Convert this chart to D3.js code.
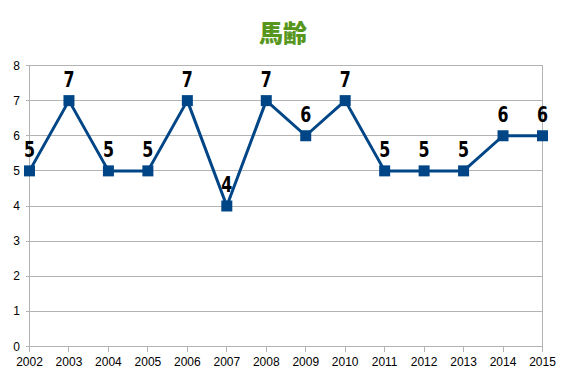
<!DOCTYPE html>
<html>
<head>
<meta charset="utf-8">
<script src="https://cdn.jsdelivr.net/npm/d3@7/dist/d3.min.js"></script>
<style>
    body { margin: 0; background: #fff; }
    .grid line { stroke: #b3b3b3; stroke-width: 1px; shape-rendering: crispEdges; }
    .val { font-family: "DejaVu Sans", sans-serif; font-weight: bold; font-size: 22px; fill: #000; }
</style>
</head>
<body>
<script>

    var years = [2002, 2003, 2004, 2005, 2006, 2007, 2008, 2009, 2010, 2011, 2012, 2013, 2014, 2015];
    var ages = [5, 7, 5, 5, 7, 4, 7, 6, 7, 5, 5, 5, 6, 6];
    var yTicks = [0, 1, 2, 3, 4, 5, 6, 7, 8];
    var title = "馬齢";

    var width = 567, height = 378;
    var m = { left: 29.5, right: 542.5, top: 65.5, bottom: 346.5 };

    var svg = d3.select("body").append("svg")
        .attr("width", width)
        .attr("height", height);

    var x = d3.scalePoint().domain(years).range([m.left, m.right]);
    var y = d3.scaleLinear().domain([0, 8]).range([m.bottom, m.top]);

    // horizontal gridlines
    svg.append("g").attr("class", "grid")
        .selectAll("line").data(yTicks).enter().append("line")
        .attr("x1", m.left - 4).attr("x2", m.right)
        .attr("y1", function (d) { return y(d); })
        .attr("y2", function (d) { return y(d); });

    // left axis line and right border
    svg.append("g").attr("class", "grid")
        .selectAll("line").data([m.left, m.right]).enter().append("line")
        .attr("x1", function (d) { return d; }).attr("x2", function (d) { return d; })
        .attr("y1", m.top).attr("y2", m.bottom);

    // bottom tick marks
    svg.append("g").attr("class", "grid")
        .selectAll("line").data(years).enter().append("line")
        .attr("x1", function (d) { return x(d); }).attr("x2", function (d) { return x(d); })
        .attr("y1", m.bottom).attr("y2", m.bottom + 5);

    // y labels
    svg.append("g")
        .selectAll("text").data(yTicks).enter().append("text")
        .attr("x", 20).attr("y", function (d) { return y(d) + 4; })
        .attr("text-anchor", "end")
        .style("font-family", "Liberation Sans, Arial, sans-serif").style("font-size", "12px")
        .text(function (d) { return d; });

    // x labels
    svg.append("g")
        .selectAll("text").data(years).enter().append("text")
        .attr("x", function (d) { return x(d); }).attr("y", m.bottom + 19)
        .attr("text-anchor", "middle")
        .style("font-family", "Liberation Sans, Arial, sans-serif").style("font-size", "12px")
        .text(function (d) { return d; });

    var pts = years.map(function (d, i) { return [d, ages[i]]; });

    svg.append("path")
        .datum(pts)
        .attr("fill", "none")
        .attr("stroke", "#004586")
        .attr("stroke-width", 3)
        .attr("stroke-linejoin", "round")
        .attr("d", d3.line().x(function (d) { return x(d[0]); }).y(function (d) { return y(d[1]); }));

    svg.selectAll("rect.mk").data(pts).enter().append("rect")
        .attr("class", "mk")
        .attr("x", function (d) { return x(d[0]) - 5.5; })
        .attr("y", function (d) { return y(d[1]) - 5.5; })
        .attr("width", 11).attr("height", 11)
        .attr("fill", "#004586");

    // value labels, squeezed sideways to look condensed
    svg.selectAll("text.val").data(pts).enter().append("text")
        .attr("class", "val")
        .attr("transform", function (d) {
            return "translate(" + x(d[0]) + "," + (y(d[1]) - 14) + ") scale(0.72,1)";
        })
        .attr("text-anchor", "middle")
        .text(function (d) { return d[1]; });

    svg.append("text")
        .attr("x", 283).attr("y", 42)
        .attr("text-anchor", "middle")
        .style("font-family", "Noto Sans CJK JP, sans-serif")
        .style("font-weight", "900")
        .style("font-size", "24px")
        .style("fill", "#57961c")
        .text(title);

</script>
</body>
</html>
